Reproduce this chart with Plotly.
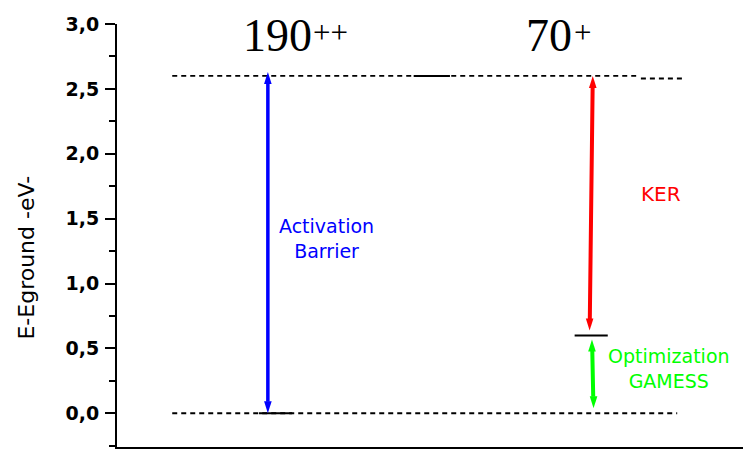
import plotly.graph_objects as go

# Energy levels (eV)
ground_level = 0.0
barrier_level = 2.6
opt_level = 0.6

# Dashed reference lines: start x, end x, energy
dash_x0 = [0.35, 0.35, 3.32]
dash_x1 = [3.55, 3.29, 3.58]
dash_e = [0.0, 2.6, 2.58]

# Short solid level marks: start x, end x, energy
mark_x0 = [0.90, 1.88, 2.90]
mark_x1 = [1.11, 2.11, 3.11]
mark_e = [0.0, 2.6, 0.6]

# Double-headed arrows: x at low end, x at high end, low energy, high energy
arrow_x_low = [0.956, 2.995, 3.020]
arrow_x_high = [0.956, 3.015, 3.010]
arrow_e_low = [ground_level, opt_level, ground_level]
arrow_e_high = [barrier_level, barrier_level, opt_level]
arrow_colors = ["#0000ff", "#ff0000", "#00ff00"]
arrow_widths = [3.5, 4.0, 4.0]
gap_low_px = [0, 5, 5]      # head tip distance from the lower level
gap_high_px = [-4, 0, 4]    # head tip distance from the upper level

# Text labels
note_text = ["Activation<br>Barrier", "KER", "Optimization<br>GAMESS"]
note_x = [1.33, 3.445, 3.50]
note_y = [1.35, 1.69, 0.344]
note_colors = ["#0000ff", "#ff0000", "#00ff00"]
note_sizes = [19, 20, 19]

# Ion labels: mass number and charge drawn as separate pieces
ion_mass = ["190", "70"]
ion_mass_x = [1.018, 2.739]
ion_mass_y = [2.913, 2.913]
ion_charge = ["++", "+"]
ion_charge_x = [1.238, 2.889]
ion_charge_y = [2.937, 2.937]

y_ticks = [0.0, 0.5, 1.0, 1.5, 2.0, 2.5, 3.0]

HEAD_LEN = 12
HEAD_HALF = 3.8
SANS = "DejaVu Sans"
SERIF = "Liberation Serif"

fig = go.Figure()

for x0, x1, e in zip(dash_x0, dash_x1, dash_e):
    fig.add_trace(go.Scatter(
        x=[x0, x1], y=[e, e], mode="lines",
        line=dict(color="#000000", width=1.8, dash="5px,4px"),
        hoverinfo="skip", showlegend=False,
    ))

for x0, x1, e in zip(mark_x0, mark_x1, mark_e):
    fig.add_trace(go.Scatter(
        x=[x0, x1], y=[e, e], mode="lines",
        line=dict(color="#000000", width=2),
        hoverinfo="skip", showlegend=False,
    ))

shapes = []
annotations = []


def head(x, e, up, gap, color):
    # arrow head drawn in pixel units, anchored at a data point
    if up:
        tip, base = -gap, -gap - HEAD_LEN
    else:
        tip, base = gap, gap + HEAD_LEN
    path = f"M0,{tip} L{-HEAD_HALF},{base} L{HEAD_HALF},{base} Z"
    return dict(
        type="path", xref="x", yref="y", xsizemode="pixel", ysizemode="pixel",
        xanchor=x, yanchor=e, path=path,
        fillcolor=color, line=dict(width=0), layer="above",
    )


for xl, xh, el, eh, c, w, gl, gh in zip(arrow_x_low, arrow_x_high, arrow_e_low,
                                        arrow_e_high, arrow_colors, arrow_widths,
                                        gap_low_px, gap_high_px):
    # shaft, trimmed at both ends so that the heads sit on top
    annotations.append(dict(
        x=xh, y=eh, ax=xl, ay=el, xref="x", yref="y", axref="x", ayref="y",
        text="", showarrow=True, arrowhead=0, arrowside="end+start",
        arrowcolor=c, arrowwidth=w,
        standoff=gh + HEAD_LEN - 2, startstandoff=gl + HEAD_LEN - 2,
    ))
    shapes.append(head(xh, eh, True, gh, c))
    shapes.append(head(xl, el, False, gl, c))

for t, x, y, c, s in zip(note_text, note_x, note_y, note_colors, note_sizes):
    annotations.append(dict(
        x=x, y=y, xref="x", yref="y", text=t, showarrow=False,
        font=dict(family=SANS, size=s, color=c), align="center",
        xanchor="center", yanchor="middle",
    ))

for t, x, y in zip(ion_mass, ion_mass_x, ion_mass_y):
    annotations.append(dict(
        x=x, y=y, xref="x", yref="y", text=t, showarrow=False,
        font=dict(family=SERIF, size=46, color="#000000"),
        xanchor="center", yanchor="middle",
    ))

for t, x, y in zip(ion_charge, ion_charge_x, ion_charge_y):
    annotations.append(dict(
        x=x, y=y, xref="x", yref="y", text=t, showarrow=False,
        font=dict(family=SERIF, size=31, color="#000000"),
        xanchor="left", yanchor="middle", borderpad=0,
    ))

# rotated y-axis title
annotations.append(dict(
    x=0, y=1.20, xref="paper", yref="y", xshift=-90, text="E-Eground -eV-",
    textangle=-90, showarrow=False, xanchor="center", yanchor="middle",
    font=dict(family=SANS, size=22, color="#000000"),
))

fig.update_layout(
    width=743, height=449,
    margin=dict(l=117, r=0, t=24, b=2, autoexpand=False),
    paper_bgcolor="white", plot_bgcolor="white",
    separators=",.",
    showlegend=False,
    shapes=shapes, annotations=annotations,
    xaxis=dict(
        range=[0, 3.967], tickvals=[1, 2, 3], showticklabels=False,
        ticks="outside", ticklen=8, tickwidth=2, tickcolor="#000000",
        showline=True, linecolor="#000000", linewidth=2,
        showgrid=False, zeroline=False, automargin=False,
    ),
    yaxis=dict(
        range=[-0.26, 3.0], tickvals=y_ticks, tickformat=".1f",
        ticks="outside", ticklen=10, tickwidth=2, tickcolor="#000000",
        minor=dict(ticks="outside", ticklen=6, tickwidth=2, dtick=0.25,
                   tickcolor="#000000", showgrid=False),
        ticklabelstandoff=2,
        tickfont=dict(family=SANS, size=19, color="#000000", weight="bold"),
        showline=True, linecolor="#000000", linewidth=2,
        showgrid=False, zeroline=False, automargin=False,
    ),
)

fig.write_html("out.html")
